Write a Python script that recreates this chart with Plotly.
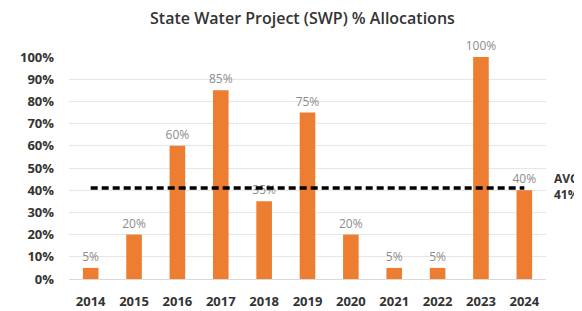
import plotly.graph_objects as go

years = ["2014", "2015", "2016", "2017", "2018", "2019", "2020", "2021", "2022", "2023", "2024"]
allocations = [5, 20, 60, 85, 35, 75, 20, 5, 5, 100, 40]
average = 41
y_ticks = [0, 10, 20, 30, 40, 50, 60, 70, 80, 90, 100]

FONT = "Open Sans"

fig = go.Figure()
fig.add_trace(go.Bar(
    x=years, y=allocations,
    marker=dict(color="#ED7D31", line=dict(width=0)),
    text=[f"{v}%" for v in allocations], textposition="outside",
    textfont=dict(family=FONT, size=12, color="#8c8c8c"),
    constraintext="none", cliponaxis=False,
))
fig.add_trace(go.Scatter(
    x=[years[0], years[-1]], y=[average, average], mode="lines",
    line=dict(color="black", width=3.5, dash="7px,4px"),
    hoverinfo="skip",
))
fig.add_annotation(
    x=1.0, xref="paper", y=average, yref="y",
    text=f"AVG<br>{average}%", showarrow=False,
    xanchor="left", yanchor="middle", xshift=6, yshift=1, align="left",
    font=dict(family=FONT, size=12, color="#333333", weight="bold"),
)
fig.update_layout(
    width=574, height=303,
    margin=dict(l=61, r=36, t=49, b=32),
    paper_bgcolor="white", plot_bgcolor="white",
    showlegend=False, bargap=0.64,
    title=dict(text="State Water Project (SWP) % Allocations", x=0.513, xanchor="center",
               y=0.985, yanchor="top",
               font=dict(family=FONT, size=16, color="#333333", weight=600)),
    xaxis=dict(showgrid=False, showline=True, linecolor="#d9d9d9", ticks="",
               tickfont=dict(family=FONT, size=13, color="#333333", weight="bold"),
               range=[-0.5, 10.5], ticklabelstandoff=10, automargin=False),
    yaxis=dict(range=[0, 100], tickvals=y_ticks, ticktext=[f"{v}%" for v in y_ticks],
               gridcolor="#e6e6e6", zeroline=False,
               tickfont=dict(family=FONT, size=13, color="#333333", weight="bold"),
               ticklabelstandoff=14, automargin=False),
)
fig.write_html("out.html")
